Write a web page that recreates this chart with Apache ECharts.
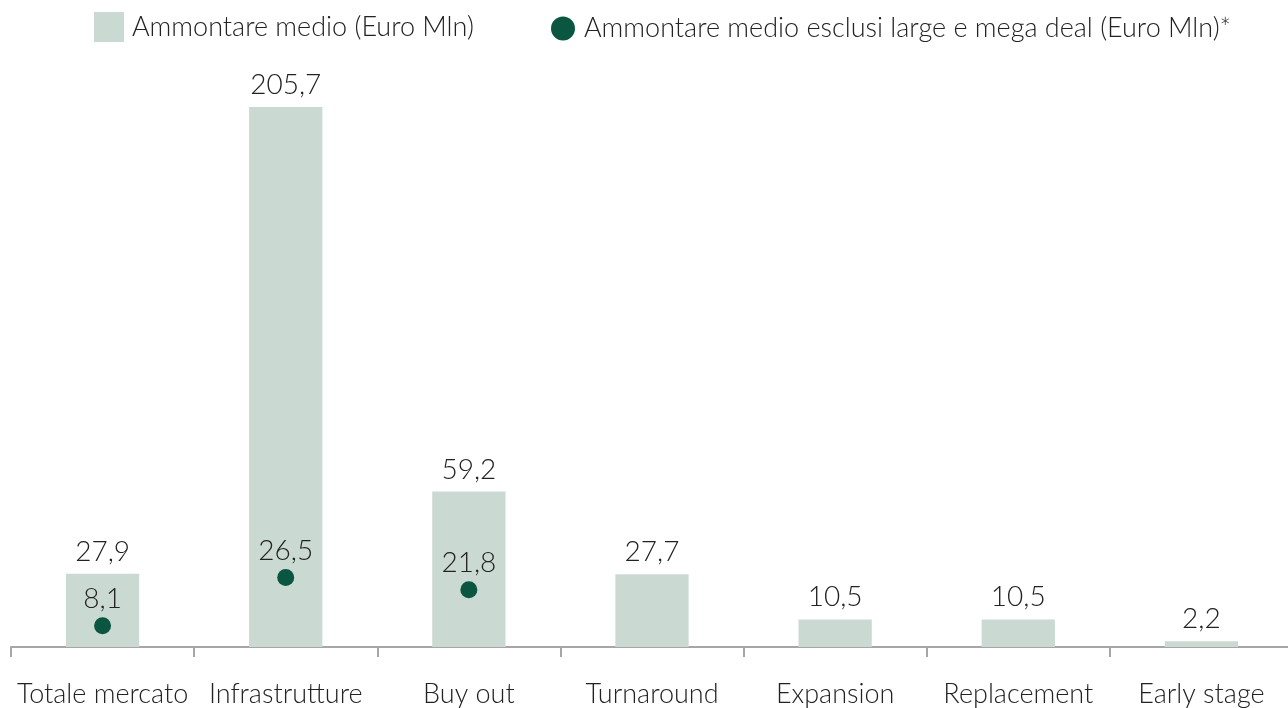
<!DOCTYPE html>
<html>
<head>
<meta charset="utf-8">
<script src="https://cdn.jsdelivr.net/npm/echarts@6/dist/echarts.min.js"></script>
<style>
  html, body { margin: 0; padding: 0; background: #fff; }
  #chart { width: 1288px; height: 708px; }
</style>
</head>
<body>
<div id="chart"></div>
<script>
// dati
var categories = ["Totale mercato", "Infrastrutture", "Buy out", "Turnaround", "Expansion", "Replacement", "Early stage"];
var ammontareMedio = [27.9, 205.7, 59.2, 27.7, 10.5, 10.5, 2.2];
var ammontareEsclusi = [8.1, 26.5, 21.8, null, null, null, null];

var barName = "Ammontare medio (Euro Mln)";
var dotName = "Ammontare medio esclusi large e mega deal (Euro Mln)*";

var fmt = function (p) {
  return String(p.value).replace(".", ",");
};

var chart = echarts.init(document.getElementById("chart"));
var font = "Lato, 'Noto Sans', sans-serif";
var txt = "#222";

var option = {
  animation: false,
  legend: [
    {
      left: 89,
      top: 7,
      itemWidth: 30,
      itemHeight: 30,
      textStyle: { fontSize: 27, color: txt, fontFamily: font, fontWeight: 300, padding: [0, 0, 0, 3] },
      data: [{ name: barName, icon: "rect" }],
    },
    {
      left: 546,
      top: 10,
      itemWidth: 24,
      itemHeight: 24,
      textStyle: { fontSize: 27, color: txt, fontFamily: font, fontWeight: 300, padding: [0, 0, 0, 4] },
      data: [{ name: dotName, icon: "circle" }],
    },
  ],
  grid: {
    left: 11,
    right: -5,
    top: 69.5,
    bottom: 61,
    outerBoundsMode: "none",
  },
  xAxis: {
    type: "category",
    data: categories,
    axisLine: { lineStyle: { color: "#a6a6a6", width: 2 } },
    axisTick: { show: true, length: 10, lineStyle: { color: "#a6a6a6", width: 2 } },
    axisLabel: { interval: 0, fontSize: 27, color: txt, fontFamily: font, fontWeight: 300, margin: 34 },
  },
  yAxis: {
    type: "value",
    min: 0,
    max: 220,
    show: false,
    splitLine: { show: false },
  },
  series: [
    {
      name: barName,
      type: "bar",
      data: ammontareMedio,
      barWidth: "40%",
      itemStyle: { color: "#cbd9d3" },
      label: {
        show: true,
        position: "top",
        distance: 8,
        formatter: fmt,
        fontSize: 28,
        color: txt,
        fontFamily: font,
        fontWeight: 300,
      },
    },
    {
      name: dotName,
      type: "scatter",
      data: ammontareEsclusi,
      symbolSize: 17,
      itemStyle: { color: "#0b5640", opacity: 1 },
      label: {
        show: true,
        position: "top",
        distance: 4,
        formatter: fmt,
        fontSize: 28,
        color: txt,
        fontFamily: font,
        fontWeight: 300,
      },
    },
  ],
};

chart.setOption(option);
</script>
</body>
</html>
